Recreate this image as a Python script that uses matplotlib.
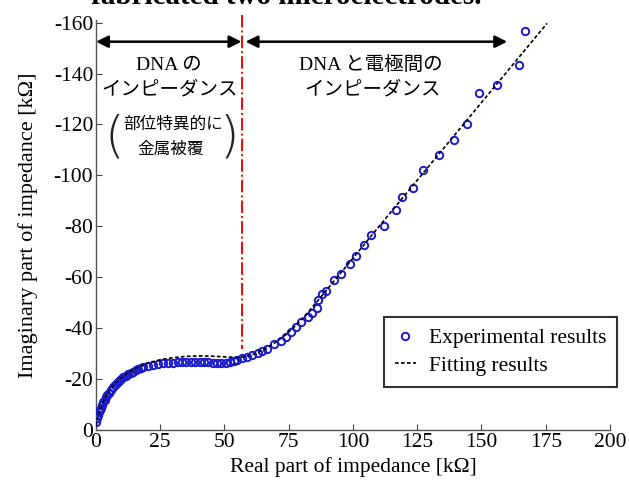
import numpy as np
import matplotlib
matplotlib.use("Agg")
import matplotlib.pyplot as plt

plt.rcParams['axes.unicode_minus'] = False
plt.rcParams['font.family'] = ['Liberation Serif', 'Noto Sans CJK JP']

# ==========================================================
# DATA (kOhm; imaginary part as magnitude)
# ==========================================================

exp_re = [0.1, 0.4, 0.8, 1.1, 1.4, 1.8, 2.3, 2.8, 3.4, 3.9, 4.4, 5.0, 5.7, 6.5,
          7.3, 8.0, 8.8, 9.6, 10.5, 11.5, 12.5, 13.5, 14.5, 15.4, 16.4, 17.4,
          18.4, 20.3, 22.3, 24.2, 26.2, 28.1, 30.1, 31.8, 33.5, 35.2, 36.9,
          38.6, 40.3, 42.0, 43.7, 45.4, 47.1, 48.8, 50.5, 52.2, 53.8, 55.0,
          56.9, 58.9, 60.8, 63.0, 64.7, 66.7, 69.3, 71.9, 73.8, 75.8, 77.7,
          79.7, 82.3, 84.2, 86.0, 86.3, 87.8, 89.5, 92.7, 95.5, 98.7, 101.0,
          104.3, 107.0, 112.0, 116.8, 119.2, 123.2, 127.4, 133.3, 139.2,
          144.4, 149.2, 156.0, 164.4, 166.8]
exp_im = [3.3, 4.6, 5.9, 6.9, 7.8, 8.8, 9.8, 10.8, 11.8, 12.8, 13.7, 14.7, 15.7,
          16.7, 17.6, 18.5, 19.3, 20.0, 20.7, 21.3, 21.8, 22.4, 22.9, 23.4,
          23.8, 24.2, 24.6, 25.1, 25.5, 25.9, 26.2, 26.4, 26.5, 26.6, 26.7,
          26.7, 26.7, 26.7, 26.7, 26.6, 26.6, 26.5, 26.5, 26.4, 26.4, 26.6,
          27.0, 27.5, 28.1, 28.7, 29.4, 30.3, 31.1, 32.0, 33.7, 35.0, 36.6,
          38.5, 40.5, 42.5, 44.4, 46.0, 48.0, 51.0, 53.3, 54.6, 59.1, 61.3,
          65.0, 68.5, 72.8, 76.5, 80.2, 86.5, 91.5, 95.1, 102.0, 108.1, 114.0,
          120.0, 132.2, 135.5, 143.3, 156.5]

fit_re = [0, 0.5, 1, 2, 3, 4, 6, 8, 10, 13, 16, 20, 25, 30, 35, 40, 45, 50,
          55, 58, 62, 66, 70, 74, 78, 82, 86, 90, 100, 110, 120, 130, 140,
          150, 160, 170, 175.5]
fit_im = [1.5, 4.0, 6.0, 9.0, 11.5, 13.5, 16.5, 18.8, 20.6, 22.8, 24.5, 26.2,
          27.6, 28.4, 28.9, 29.1, 29.0, 28.7, 28.5, 28.8, 30.0, 32.0, 34.5,
          37.5, 41.3, 45.6, 50.4, 55.3, 67.5, 79.8, 92.0, 104.2, 116.4, 128.6,
          140.8, 153.0, 159.7]

x_ticks = [0, 25, 50, 75, 100, 125, 150, 175, 200]
y_ticks = [0, -20, -40, -60, -80, -100, -120, -140, -160]

boundary_re = 57.0
arrow_im = -152.5

# ==========================================================
# FIGURE
# ==========================================================

fig = plt.figure(figsize=(6.29, 4.84), dpi=100)
ax = fig.add_axes([0.1526, 0.1116, 0.8172, 0.847])

ax.plot(exp_re, -np.array(exp_im), 'o', mfc='none', mec='#1a1acc',
        ms=5.3, mew=1.4, label='Experimental results', zorder=3)
ax.plot(fit_re, -np.array(fit_im), color='black', lw=1.2,
        dashes=(2.2, 1.4), label='Fitting results', zorder=4)

ax.plot([boundary_re, boundary_re], [-163, -32], color='red', lw=1.4,
        linestyle='-.', clip_on=False, zorder=2)

ax.set_xlim(0, 200)
ax.set_ylim(0, -161)
ax.set_xticks(x_ticks)
ax.set_yticks(y_ticks)
ax.tick_params(direction='in', length=4, labelsize=15.5, color='#444444', pad=2)
for s in ['top', 'right']:
    ax.spines[s].set_visible(False)
for s in ['left', 'bottom']:
    ax.spines[s].set_color('#555555')
    ax.spines[s].set_linewidth(1.0)

ax.set_xlabel('Real part of impedance [kΩ]', fontsize=15.5, labelpad=4)
ax.set_ylabel('Imaginary part of impedance [kΩ]', fontsize=16, labelpad=11)

# arrows
ax.annotate('', xy=(0, arrow_im), xytext=(boundary_re - 0.4, arrow_im),
            arrowprops=dict(arrowstyle='<|-|>', color='black', lw=1.8,
                            mutation_scale=18, shrinkA=0, shrinkB=0))
ax.annotate('', xy=(boundary_re + 1.2, arrow_im), xytext=(160, arrow_im),
            arrowprops=dict(arrowstyle='<|-|>', color='black', lw=1.8,
                            mutation_scale=18, shrinkA=0, shrinkB=0))

jp = ['Liberation Serif', 'Noto Sans CJK JP']
ax.text(28.5, -143.5, 'DNA の', ha='center', va='center', fontsize=14, family=jp)
ax.text(28.5, -133.5, 'インピーダンス', ha='center', va='center', fontsize=14, family=jp)
ax.text(30.2, -120, '部位特異的に', ha='center', va='center', fontsize=12, family=jp)
ax.text(29.0, -110, '金属被覆', ha='center', va='center', fontsize=12, family=jp)
ax.text(7.0, -115, '(', ha='center', va='center', fontsize=36, family='DejaVu Sans',
        fontweight='light', color='#222222')
ax.text(52.0, -115, ')', ha='center', va='center', fontsize=36, family='DejaVu Sans',
        fontweight='light', color='#222222')
ax.text(107, -143.5, 'DNA と電極間の', ha='center', va='center', fontsize=14, family=jp)
ax.text(107.5, -133.5, 'インピーダンス', ha='center', va='center', fontsize=14, family=jp)

leg = ax.legend(loc='center', bbox_to_anchor=(0.787, 0.190), fontsize=15.5,
                frameon=True, fancybox=False, edgecolor='black',
                handlelength=1.0, handletextpad=0.6, borderpad=0.5,
                labelspacing=0.35, borderaxespad=0)
leg.get_frame().set_linewidth(1.5)

# caption of the page above, cut by the crop
fig.text(0.145, 1 - 4 / 484, 'fabricated two microelectrodes.', fontsize=21,
         fontweight='bold', family='Liberation Serif', va='baseline')

fig.savefig('out.png', dpi=100)
